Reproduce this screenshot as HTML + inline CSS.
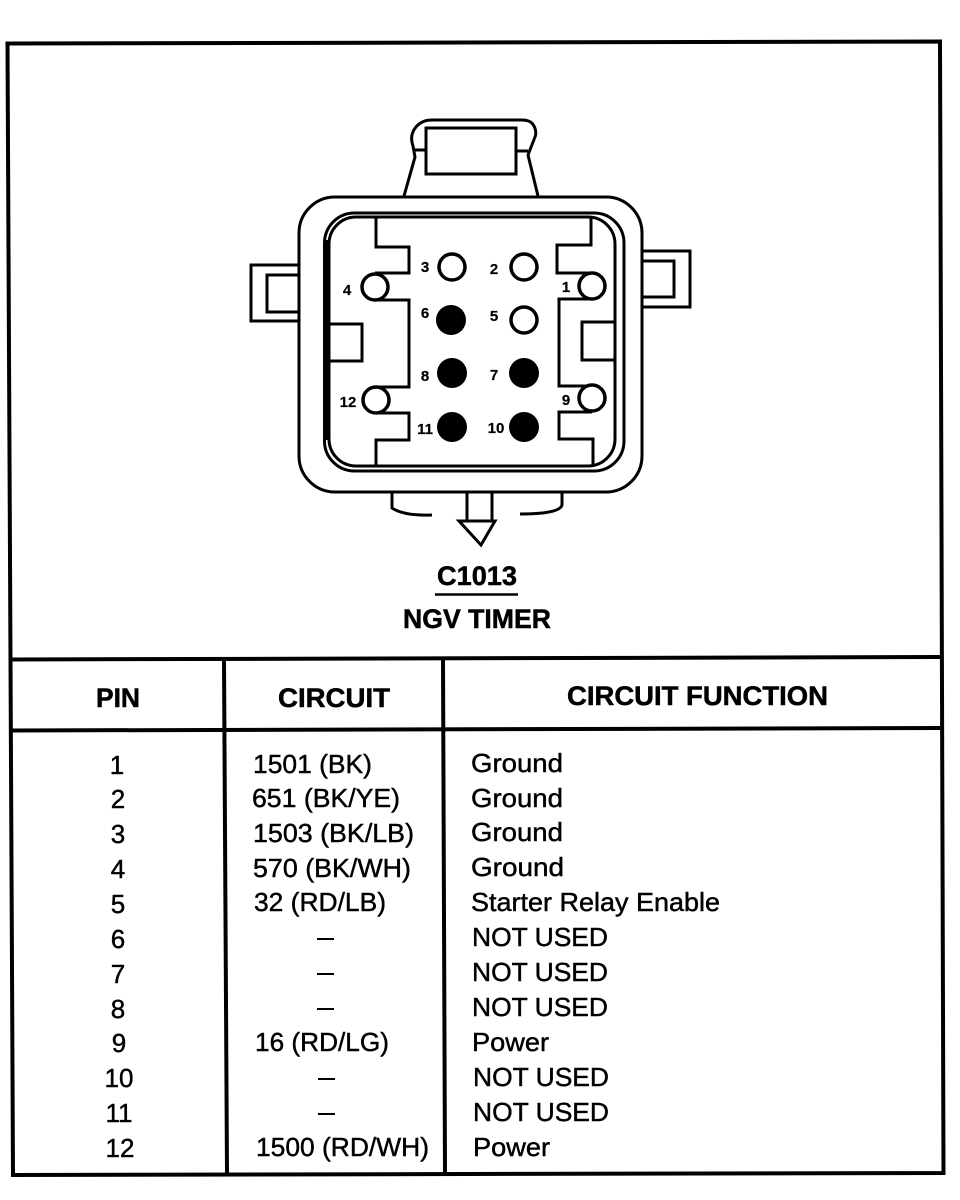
<!DOCTYPE html>
<html><head><meta charset="utf-8"><style>
html,body{margin:0;padding:0;background:#fff}
svg{display:block}
text{font-family:"Liberation Sans",sans-serif;fill:#000;stroke:#000;stroke-width:.45}
.r{font-size:26px}
.b{font-size:27px;font-weight:bold;stroke-width:.5}
.s{font-size:15px;font-weight:bold;text-anchor:middle;stroke-width:.2}
</style></head><body>
<svg width="960" height="1200" viewBox="0 0 960 1200" xmlns="http://www.w3.org/2000/svg">
<rect width="960" height="1200" fill="#fff"/>
<g fill="none" stroke="#000" stroke-width="4">
<path d="M7.500 43.500L940 41.500L943.500 1173L13 1175Z"/>
<path d="M10 659.500L940 657"/>
<path d="M11 730.500L941 728"/>
<path d="M224 660L227 1174"/>
<path d="M443 659L445 1173"/>
</g>
<g fill="none" stroke="#000" stroke-width="3">
<rect x="299" y="197" width="343" height="295" rx="36" ry="36" fill="#fff"/>
<rect x="324.500" y="213" width="299.500" height="258" rx="30" ry="30"/>
<rect x="329" y="217" width="286" height="249" rx="27" ry="27"/>
<path d="M326 240V440" stroke-width="5"/>
<path d="M376 218V247H409V273H375M375 300H409V387H376M376 413H409V440H376V466"/>
<path d="M591 218V245H557V273H592M592 299H559V386H592M592 412H559V439H593V466"/>
<path d="M329 324H362V361H329"/>
<path d="M615 322H582V360H615"/>
<path d="M404 196L415 157L413 146C408 132 418 120 432 120H522Q531 120 534 126Q537 132 535 137L528 155L538 196"/>
<rect x="426" y="128" width="90" height="46"/>
<path d="M414 150H426M516 151H528"/>
<path d="M299 265H251V321H299M299 275H267V312H299"/>
<path d="M642 251H690V307H642M642 261H674V297H642"/>
<path d="M392 492V508Q404 516 432 515M562 492V505Q560 514 520 514"/>
<path d="M467 493V521M492 493V521"/>
<path d="M459 521H495L481 545Z" fill="#fff"/>
<g fill="#fff" stroke-width="3.500">
<circle cx="375" cy="287" r="13"/><circle cx="376" cy="400" r="13"/>
<circle cx="592" cy="286" r="13"/><circle cx="592" cy="398" r="13"/>
<circle cx="452" cy="267" r="13"/><circle cx="524" cy="267" r="13"/><circle cx="524" cy="320" r="13"/>
</g>
</g>
<g fill="#000">
<circle cx="451" cy="320" r="15"/><circle cx="452" cy="373" r="15"/><circle cx="524" cy="373" r="15"/>
<circle cx="452" cy="427" r="15"/><circle cx="524" cy="427" r="15"/>
</g>
<text class="s" x="425" y="272">3</text>
<text class="s" x="494" y="274">2</text>
<text class="s" x="347" y="295">4</text>
<text class="s" x="566" y="292">1</text>
<text class="s" x="425" y="318">6</text>
<text class="s" x="494" y="321">5</text>
<text class="s" x="425" y="381">8</text>
<text class="s" x="494" y="380">7</text>
<text class="s" x="348" y="407">12</text>
<text class="s" x="566" y="405">9</text>
<text class="s" x="425" y="434">11</text>
<text class="s" x="496" y="433">10</text>

<text class="b" x="437" y="585" textLength="80" lengthAdjust="spacingAndGlyphs">C1013</text>
<path d="M435 594.500H518" stroke="#000" stroke-width="2.500"/>
<text class="b" x="403" y="628" textLength="148" lengthAdjust="spacingAndGlyphs">NGV TIMER</text>
<text class="b" x="96" y="707" textLength="44" lengthAdjust="spacingAndGlyphs">PIN</text>
<text class="b" x="278" y="707" textLength="112" lengthAdjust="spacingAndGlyphs">CIRCUIT</text>
<text class="b" x="567" y="705" textLength="261" lengthAdjust="spacingAndGlyphs">CIRCUIT FUNCTION</text>

<g text-anchor="middle">
<text class="r" x="117" y="774">1</text>
<text class="r" x="118" y="808">2</text>
<text class="r" x="118" y="843">3</text>
<text class="r" x="118" y="878">4</text>
<text class="r" x="118" y="913">5</text>
<text class="r" x="118" y="948">6</text>
<text class="r" x="118" y="983">7</text>
<text class="r" x="118" y="1018">8</text>
<text class="r" x="119" y="1052">9</text>
<text class="r" x="119" y="1087">10</text>
<text class="r" x="119" y="1122">11</text>
<text class="r" x="120" y="1157">12</text>
</g>

<text class="r" x="253" y="773" textLength="119" lengthAdjust="spacingAndGlyphs">1501 (BK)</text>
<text class="r" x="252" y="807" textLength="148" lengthAdjust="spacingAndGlyphs">651 (BK/YE)</text>
<text class="r" x="253" y="842" textLength="161" lengthAdjust="spacingAndGlyphs">1503 (BK/LB)</text>
<text class="r" x="253" y="877" textLength="158" lengthAdjust="spacingAndGlyphs">570 (BK/WH)</text>
<text class="r" x="254" y="911" textLength="132" lengthAdjust="spacingAndGlyphs">32 (RD/LB)</text>
<text class="r" x="255" y="1051" textLength="134" lengthAdjust="spacingAndGlyphs">16 (RD/LG)</text>
<text class="r" x="256" y="1156" textLength="173" lengthAdjust="spacingAndGlyphs">1500 (RD/WH)</text>
<g stroke="#000" stroke-width="2">
<path d="M317 939H334M317 974H334M317 1009H334M318 1079H335M318 1114H335"/>
</g>

<text class="r" x="471" y="772" textLength="92" lengthAdjust="spacingAndGlyphs">Ground</text>
<text class="r" x="471" y="807" textLength="92" lengthAdjust="spacingAndGlyphs">Ground</text>
<text class="r" x="471" y="841" textLength="92" lengthAdjust="spacingAndGlyphs">Ground</text>
<text class="r" x="471" y="876" textLength="93" lengthAdjust="spacingAndGlyphs">Ground</text>
<text class="r" x="471" y="911" textLength="249" lengthAdjust="spacingAndGlyphs">Starter Relay Enable</text>
<text class="r" x="472" y="946" textLength="136" lengthAdjust="spacingAndGlyphs">NOT USED</text>
<text class="r" x="472" y="981" textLength="136" lengthAdjust="spacingAndGlyphs">NOT USED</text>
<text class="r" x="472" y="1016" textLength="136" lengthAdjust="spacingAndGlyphs">NOT USED</text>
<text class="r" x="472" y="1051" textLength="77" lengthAdjust="spacingAndGlyphs">Power</text>
<text class="r" x="473" y="1086" textLength="136" lengthAdjust="spacingAndGlyphs">NOT USED</text>
<text class="r" x="473" y="1121" textLength="136" lengthAdjust="spacingAndGlyphs">NOT USED</text>
<text class="r" x="473" y="1156" textLength="77" lengthAdjust="spacingAndGlyphs">Power</text>
</svg>
</body></html>
